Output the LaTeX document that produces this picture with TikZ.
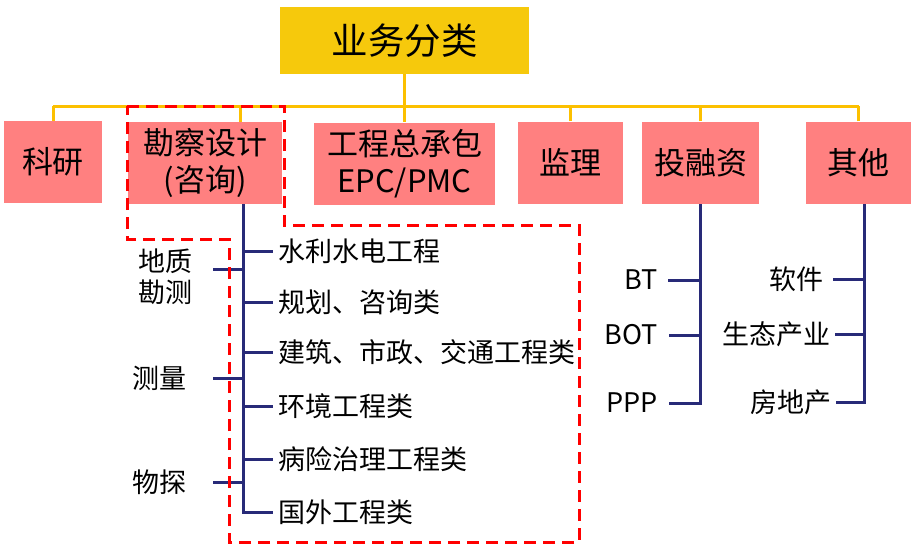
\documentclass[tikz,border=0pt]{standalone}
\usepackage{fontspec}
\setmainfont{Noto Sans CJK SC}
\usepackage{xcolor}
\usetikzlibrary{calc}
\definecolor{topgold}{RGB}{246,201,12}
\definecolor{busgold}{RGB}{252,192,0}
\definecolor{salmon}{RGB}{255,128,128}
\definecolor{navyline}{RGB}{40,42,120}
\definecolor{markred}{RGB}{255,0,0}

\begin{document}
\begin{tikzpicture}[x=1pt, y=-1pt,
    topbox/.style={fill=topgold, minimum width=249pt, minimum height=67pt, inner sep=0pt,
        font=\fontsize{36.5}{40}\selectfont},
    catbox/.style={fill=salmon, minimum height=82pt, inner sep=0pt, align=center,
        font=\fontsize{31}{37}\selectfont},
    item/.style={anchor=west, inner sep=0pt, font=\fontsize{27}{31}\selectfont},
    side/.style={inner sep=0pt, align=center, font=\fontsize{27}{31}\selectfont},
    bus/.style={busgold, line width=3pt},
    sub/.style={navyline, line width=3pt},
    hilite/.style={markred, line width=3pt, dash pattern=on 12pt off 7pt}]
    \useasboundingbox (0,0) rectangle (922,555);
    % root and the six categories
    \node[topbox] (cls) at (404.5,40.5) {业务分类};
    \node[catbox, minimum width=98pt] (ky) at (53,162) {科研};
    \node[catbox, minimum width=154pt] (kc) at (205,163) {勘察设计\\(咨询)};
    \node[catbox, minimum width=181pt] (epc) at (404.5,163.5) {工程总承包\\EPC/PMC};
    \node[catbox, minimum width=105pt] (jl) at (570.5,162.5) {监理};
    \node[catbox, minimum width=117pt] (tr) at (700.5,162.5) {投融资};
    \node[catbox, minimum width=105pt] (qt) at (858.5,162.5) {其他};
    % yellow bus
    \coordinate (busL) at (53,106);
    \coordinate (busR) at (858.5,106);
    \draw[bus] (busL) -- (busR);
    \draw[bus] (cls.south) -- (epc.north);
    \draw[bus] (ky.north) -- (ky.north |- busL);
    \draw[bus] ([xshift=35pt]kc.north) -- ([xshift=35pt]kc.north |- busL);
    \draw[bus] (jl.north) -- (jl.north |- busL);
    \draw[bus] (tr.north) -- (tr.north |- busL);
    \draw[bus] (qt.north) -- (qt.north |- busL);
    % survey and design branch
    \coordinate (kcT) at ($(kc.south)+(38,0)$);
    \node[item] (w1) at (278,251) {水利水电工程};
    \node[item] (w2) at (278,302) {规划、咨询类};
    \node[item] (w3) at (278,352) {建筑、市政、交通工程类};
    \node[item] (w4) at (278,406) {环境工程类};
    \node[item] (w5) at (278,459) {病险治理工程类};
    \node[item] (w6) at (278,512) {国外工程类};
    \draw[sub] (kcT) |- ([xshift=-5pt]w6.west);
    \draw[sub] (kcT |- w1.west) -- ([xshift=-5pt]w1.west);
    \draw[sub] (kcT |- w2.west) -- ([xshift=-5pt]w2.west);
    \draw[sub] (kcT |- w3.west) -- ([xshift=-5pt]w3.west);
    \draw[sub] (kcT |- w4.west) -- ([xshift=-5pt]w4.west);
    \draw[sub] (kcT |- w5.west) -- ([xshift=-5pt]w5.west);
    \node[side, anchor=east] (geo) at (193,277) {地质\\勘测};
    \node[side, anchor=east] (mea) at (187,378) {测量};
    \node[side, anchor=east] (phy) at (187,482) {物探};
    \draw[sub] ([shift={(20pt,8pt)}]geo.east) -- ([yshift=8pt]geo.east -| kcT);
    \draw[sub] ([xshift=26pt]mea.east) -- (mea.east -| kcT);
    \draw[sub] ([xshift=26pt]phy.east) -- (phy.east -| kcT);
    % investment branch
    \node[side, anchor=east] (bt) at (658,280) {BT};
    \node[side, anchor=east] (bot) at (658,335) {BOT};
    \node[side, anchor=east] (ppp) at (658,403) {PPP};
    \draw[sub] ([xshift=11pt]ppp.east) -| (tr.south);
    \draw[sub] ([xshift=10pt]bt.east) -- (bt.east -| tr.south);
    \draw[sub] ([xshift=11pt]bot.east) -- (bot.east -| tr.south);
    % other branch
    \coordinate (qtT) at ($(qt.south)+(5.5,0)$);
    \node[side, anchor=east] (sw) at (824,279) {软件};
    \node[side, anchor=east] (eco) at (831,334) {生态产业};
    \node[side, anchor=east] (est) at (832,402) {房地产};
    \draw[sub] ([xshift=4pt]est.east) -| (qtT);
    \draw[sub] ([xshift=9pt]sw.east) -- (sw.east -| qtT);
    \draw[sub] ([xshift=4pt]eco.east) -- (eco.east -| qtT);
    % highlighted region
    \draw[hilite] (127,106) -- (284,106) -- (284,225) -- (579,225) -- (579,542)
        -- (229,542) -- (229,239) -- (127,239) -- cycle;
\end{tikzpicture}
\end{document}
